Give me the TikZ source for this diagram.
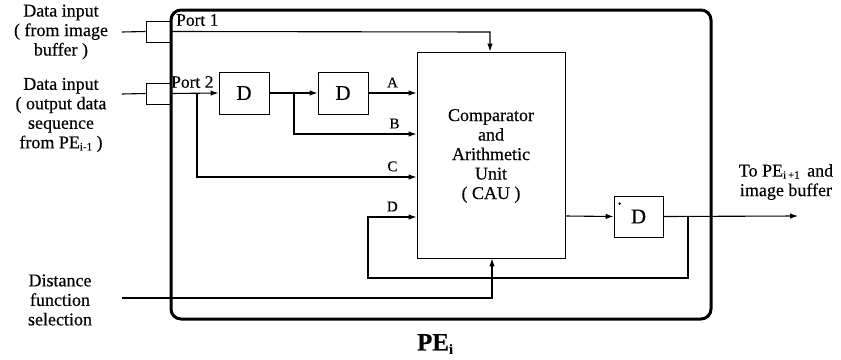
\documentclass[tikz,border=0pt]{standalone}
\usepackage{fontspec}
\setmainfont{Liberation Serif}[FakeBold=0.35]
\usetikzlibrary{arrows.meta}
\newcommand{\subtxt}[1]{\raisebox{-0.25ex}{\fontsize{11}{11}\selectfont #1}}
\tikzset{
  wire/.style={line width=1.1pt},
  arr/.style={wire,-{Latex[length=8pt,width=5.5pt]}},
  dbox/.style={draw,line width=0.8pt,minimum width=50pt,minimum height=42pt,inner sep=0pt,font=\fontsize{21}{21}\selectfont},
  portbox/.style={draw,line width=0.8pt,minimum width=25pt,minimum height=21pt,inner sep=0pt},
  txt/.style={align=center,font=\fontsize{18}{19.5}\selectfont,inner sep=0pt},
  lbl/.style={font=\fontsize{15}{15}\selectfont,inner sep=0pt},
  plbl/.style={font=\fontsize{17.5}{17.5}\selectfont,inner sep=0pt,anchor=west},
}
\begin{document}
\begin{tikzpicture}[x=1pt,y=-1pt]
\useasboundingbox (0,0) rectangle (841,359);
% outer PE box
\draw[line width=3pt,rounded corners=10pt] (171,10) rectangle (711,319);
% ports
\node[portbox] (p1) at (158.5,31.5) {};
\node[portbox] (p2) at (158.5,93.5) {};
\node[plbl] (p1l) at (176,20) {Port 1};
\node[plbl] (p2l) at (171,82) {Port 2};
% blocks
\node[dbox] (d1) at (244,93) {D};
\node[dbox] (d2) at (343,93) {D};
\node[draw,line width=0.8pt,minimum width=148pt,minimum height=206pt,inner sep=0pt] (cau) at (491,155) {};
\node[txt] (cautxt) at (491,156) {Comparator\\and\\Arithmetic\\Unit\\( CAU )};
\node[dbox,minimum width=49pt,minimum height=41pt] (d3) at (638.5,216.5) {D};
\fill (d3.north west) ++(6pt,-8pt) circle (1.3pt);
% external labels
\node[txt] (in1) at (61,32) {Data input\\( from image\\buffer )};
\node[txt] (in2) at (61,115) {Data input\\( output data\\sequence\\from PE\subtxt{i-1} )};
\node[txt] (dfs) at (60,300) {Distance\\function\\selection};
\node[txt] (outl) at (786,182) {To PE\subtxt{i\,+1}\, and\\image buffer};
\node[inner sep=0pt] (pe) at (435,344) {\fontsize{25}{25}\selectfont\bfseries PE\raisebox{-0.3ex}{\fontsize{14}{14}\selectfont i}};
% coordinates
\coordinate (c1a) at (122,32);
\coordinate (c2a) at (122,94);
\coordinate (c3a) at (122,298);
\coordinate (t1) at (490,32);
\coordinate (j2) at (197,94);
\coordinate (jb) at (294,94);
\coordinate (jo) at (688,216);
\coordinate (dsel) at (492,298);
\coordinate (oend) at (798,216);
% input wires
\draw[wire] (c1a) -- (p1.west);
\draw[wire] (c2a) -- (p2.west);
\draw[arr] (p1.east) -- (t1) -- (t1 |- cau.north);
\draw[arr] (p2.east) -- (d1.west);
\draw[arr] (d1.east) -- (d2.west);
\draw[arr] (d2.east) -- node[lbl,above=5pt,pos=0.5] (la) {A} (d2.east -| cau.west);
\draw[arr] (jb) -- (294,134) -- node[lbl,above=5pt,pos=0.82] (lb) {B} (294,134 -| cau.west);
\draw[arr] (j2) -- (197,177) -- node[lbl,above=5pt,pos=0.89] (lc) {C} (197,177 -| cau.west);
% CAU output
\draw[arr] (565,216) -- (d3.west);
\draw[arr] (d3.east) -- (oend);
% feedback
\draw[arr] (jo) -- (688,278) -- (368,278) -- (368,217) -- node[lbl,above=5pt,pos=0.5] (ld) {D} (368,217 -| cau.west);
% distance selection
\draw[arr] (c3a) -- (dsel) -- (dsel |- cau.south);
\end{tikzpicture}
\end{document}
